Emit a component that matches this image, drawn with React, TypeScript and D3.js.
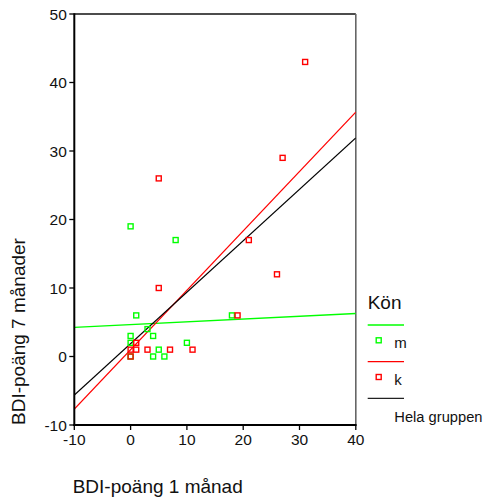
import React from "react";
import * as d3 from "d3";

const mX = [0, 8, 1, 18, 3, 4, 0, 0, 10, 5, 4, 6, 0];
const mY = [19, 17, 6, 6, 4, 3, 3, 2, 2, 1, 0, 0, 0];
const kX = [31, 27, 5, 21, 26, 5, 19, 0, 0, 1, 1, 3, 7, 11];
const kY = [43, 29, 26, 17, 12, 10, 6, 1, 0, 2, 1, 1, 1, 1];
const xTicks = [-10, 0, 10, 20, 30, 40];
const yTicks = [-10, 0, 10, 20, 30, 40, 50];
const legendTitle = "Kön";
const legendLabels = ["m", "k", "Hela gruppen"];
const xTitle = "BDI-poäng 1 månad";
const yTitle = "BDI-poäng 7 månader";

const GREEN = "#00ff00";
const RED = "#ff0000";
const FONT = "'Liberation Sans', Arial, Helvetica, sans-serif";

function fit(xs: number[], ys: number[]) {
  const mx = d3.mean(xs)!;
  const my = d3.mean(ys)!;
  let sxy = 0, sxx = 0;
  xs.forEach((x, i) => {
    sxy += (x - mx) * (ys[i] - my);
    sxx += (x - mx) * (x - mx);
  });
  const b = sxy / sxx;
  return { a: my - b * mx, b };
}

export default function App() {
  const left = 74.3, right = 355.8, top = 14, bottom = 425;
  const x = d3.scaleLinear().domain([-10, 40]).range([left, right]);
  const y = d3.scaleLinear().domain([-10, 50]).range([bottom, top]);

  const fm = fit(mX, mY);
  const fk = fit(kX, kY);
  const fa = fit([...mX, ...kX], [...mY, ...kY]);
  const line = (f: { a: number; b: number }) =>
    d3.line<number>().x((v) => x(v)).y((v) => y(f.a + f.b * v))(x.domain());

  const sq = 5;
  const mPts = mX.map((v, i) => [v, mY[i]]);
  const kPts = kX.map((v, i) => [v, kY[i]]);

  const lgX = 367.7, lgX2 = 404;
  return (
    <svg
      width={483}
      height={498}
      style={{ position: "absolute", left: 0, top: 0, display: "block", background: "#fff" }}
      fontFamily={FONT}
    >
      <defs>
        <clipPath id="plotclip">
          <rect x={left} y={top} width={right - left} height={bottom - top} />
        </clipPath>
      </defs>
      {/* box */}
      <line x1={left} x2={right} y1={top} y2={top} stroke="#111" strokeWidth={1.5} />
      <line x1={right} x2={right} y1={top} y2={bottom} stroke="#666" strokeWidth={1.6} />
      {/* regression lines */}
      <g clipPath="url(#plotclip)" fill="none" strokeWidth={1.3}>
        <path d={line(fm) || ""} stroke={GREEN} />
        <path d={line(fk) || ""} stroke={RED} />
        <path d={line(fa) || ""} stroke="#000" />
      </g>
      {/* points */}
      <g fill="none" strokeWidth={1.4}>
        {mPts.map(([a, b], i) => (
          <rect key={"m" + i} x={x(a) - sq / 2} y={y(b) - sq / 2} width={sq} height={sq} stroke={GREEN} />
        ))}
        {kPts.map(([a, b], i) => (
          <rect key={"k" + i} x={x(a) - sq / 2} y={y(b) - sq / 2} width={sq} height={sq} stroke={RED} />
        ))}
      </g>
      {/* axes */}
      <line x1={left} x2={left} y1={top - 0.7} y2={bottom + 1} stroke="#000" strokeWidth={2} />
      <line x1={left - 1} x2={right + 0.8} y1={bottom} y2={bottom} stroke="#000" strokeWidth={2} />
      {yTicks.map((t) => (
        <g key={"y" + t}>
          <line x1={left - 5} x2={left} y1={y(t)} y2={y(t)} stroke="#000" strokeWidth={1.3} />
          <text x={left - 7.5} y={y(t)} dy="0.36em" textAnchor="end" fontSize={15.5} fill="#111">
            {t}
          </text>
        </g>
      ))}
      {xTicks.map((t) => (
        <g key={"x" + t}>
          <line x1={x(t)} x2={x(t)} y1={bottom} y2={bottom + 5} stroke="#000" strokeWidth={1.3} />
          <text x={x(t)} y={445} textAnchor="middle" fontSize={15.5} fill="#111">
            {t}
          </text>
        </g>
      ))}
      {/* titles */}
      <text x={72.7} y={492.5} fontSize={19} fill="#111">
        {xTitle}
      </text>
      <text
        transform={`translate(25,425) rotate(-90)`}
        x={0}
        y={0}
        fontSize={19}
        fill="#111"
      >
        {yTitle}
      </text>
      {/* legend */}
      <text x={lgX} y={309.3} fontSize={19} fill="#111">
        {legendTitle}
      </text>
      <line x1={lgX} x2={lgX2} y1={325} y2={325} stroke={GREEN} strokeWidth={1.3} />
      <rect x={378.7 - sq / 2} y={340.3 - sq / 2} width={sq} height={sq} fill="none" stroke={GREEN} strokeWidth={1.4} />
      <text x={394.3} y={347.7} fontSize={15} fill="#111">
        {legendLabels[0]}
      </text>
      <line x1={lgX} x2={lgX2} y1={361.7} y2={361.7} stroke={RED} strokeWidth={1.3} />
      <rect x={378.7 - sq / 2} y={377 - sq / 2} width={sq} height={sq} fill="none" stroke={RED} strokeWidth={1.4} />
      <text x={394.3} y={384.5} fontSize={15} fill="#111">
        {legendLabels[1]}
      </text>
      <line x1={lgX} x2={lgX2} y1={398.3} y2={398.3} stroke="#222" strokeWidth={1.3} />
      <text x={394.3} y={421.5} fontSize={14.7} fill="#111">
        {legendLabels[2]}
      </text>
    </svg>
  );
}
